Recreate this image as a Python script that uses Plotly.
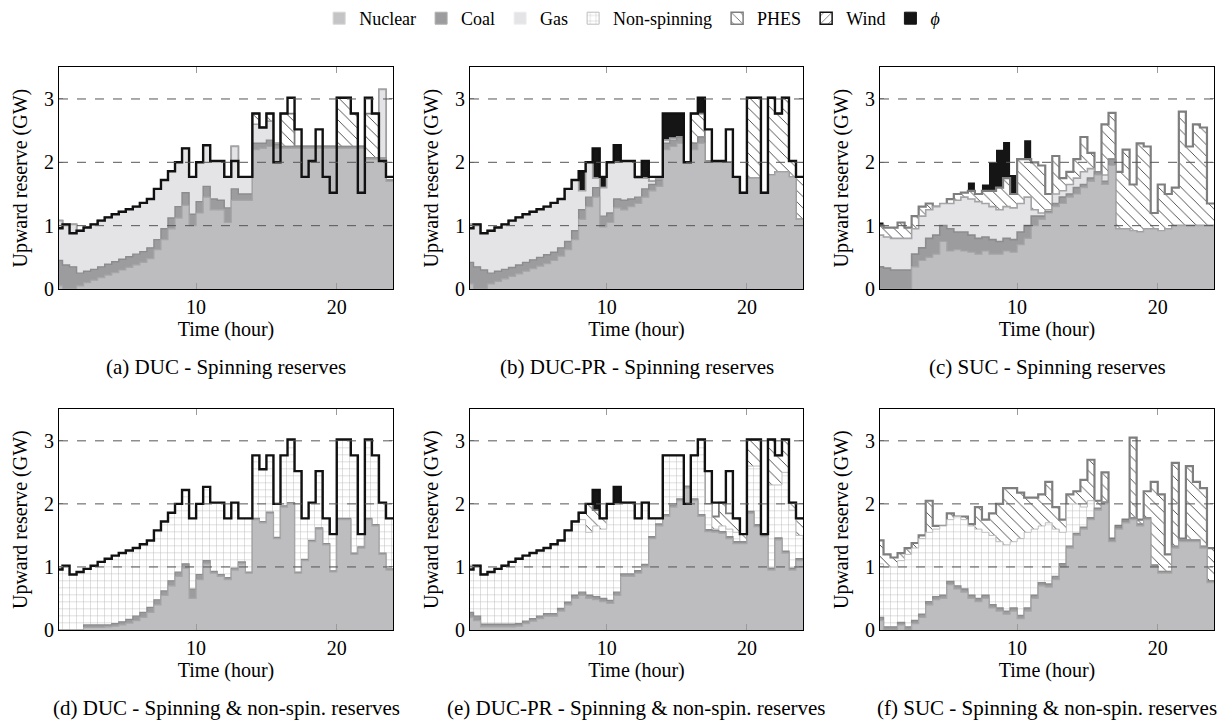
import plotly.graph_objects as go
from plotly.subplots import make_subplots

# ---------------- data (GW), half-hour steps starting at hour 0 ----------------
HOUR_EDGES = [0.5 * k for k in range(49)]
CAPTIONS = ["(a) DUC - Spinning reserves", "(b) DUC-PR - Spinning reserves", "(c) SUC - Spinning reserves",
            "(d) DUC - Spinning &amp; non-spin. reserves", "(e) DUC-PR - Spinning &amp; non-spin. reserves",
            "(f) SUC - Spinning &amp; non-spin. reserves"]

REQ_DUC = [0.96,1.02,0.88,0.92,0.97,1.02,1.08,1.13,1.18,1.22,
           1.26,1.30,1.36,1.42,1.58,1.72,1.86,2.00,2.22,1.77,
           2.00,2.27,2.02,2.02,1.77,2.02,1.77,1.77,2.77,2.55,
           2.77,2.00,2.77,3.02,2.52,1.77,2.02,2.52,1.77,1.52,
           3.02,3.02,2.77,1.52,3.02,2.77,2.02,1.77]
REQ_PR = [0.96,1.02,0.88,0.92,0.97,1.02,1.08,1.13,1.18,1.22,
          1.26,1.30,1.36,1.42,1.58,1.72,1.86,2.00,2.22,1.77,
          2.00,2.27,2.02,2.02,1.77,2.02,1.77,1.77,2.77,2.77,
          2.77,2.00,2.77,3.02,2.52,2.02,2.02,2.52,1.77,1.52,
          3.02,3.02,1.52,3.02,2.77,3.02,2.02,1.77]

# (a) DUC spinning
NUC_A = [0.05,0.00,0.00,0.05,0.10,0.14,0.18,0.22,0.26,0.30,
         0.34,0.38,0.42,0.48,0.62,0.78,0.95,1.12,1.32,1.00,
         1.20,1.45,1.25,1.25,1.05,1.40,1.40,1.40,2.20,2.22,
         2.25,2.22,2.22,2.22,2.22,2.22,2.22,2.22,2.22,2.22,
         2.22,2.22,2.22,2.22,2.05,2.05,2.05,1.70]
COAL_A = [0.45,0.38,0.35,0.25,0.28,0.31,0.35,0.39,0.43,0.47,
          0.51,0.55,0.59,0.65,0.78,0.95,1.12,1.30,1.52,1.18,
          1.38,1.62,1.42,1.40,1.28,1.58,1.50,1.50,2.30,2.30,
          2.35,2.28,2.25,2.25,2.25,2.25,2.25,2.25,2.25,2.25,
          2.25,2.25,2.25,2.25,2.07,2.07,2.07,1.72]
GAS_A = [1.08,1.02,1.02,0.92,0.97,1.02,1.08,1.13,1.18,1.22,
         1.26,1.30,1.36,1.42,1.58,1.72,1.86,2.00,2.22,1.77,
         2.00,2.27,2.02,2.02,1.77,2.25,1.77,1.77,2.60,2.55,
         2.65,2.30,2.25,2.25,2.25,2.25,2.25,2.25,2.25,2.25,
         2.25,2.25,2.25,2.25,2.07,2.07,3.15,1.72]
PHES_A = [1.08,1.02,1.02,0.92,0.97,1.02,1.08,1.13,1.18,1.22,
          1.26,1.30,1.36,1.42,1.58,1.72,1.86,2.00,2.22,1.77,
          2.00,2.27,2.02,2.02,1.77,2.25,1.77,1.77,2.77,2.55,
          2.77,2.30,2.77,2.77,2.25,2.25,2.25,2.25,2.25,2.25,
          3.02,3.02,2.77,2.25,2.77,2.77,3.15,1.77]

# (b) DUC-PR spinning
NUC_B = [0.08,0.00,0.00,0.08,0.12,0.16,0.20,0.24,0.28,0.32,
         0.36,0.40,0.45,0.52,0.62,0.78,1.10,1.30,1.45,0.98,
         1.05,1.28,1.25,1.30,1.35,1.45,1.55,1.62,2.20,2.25,
         2.30,2.00,2.20,2.30,2.00,2.00,2.00,2.00,1.77,1.52,
         1.75,1.75,1.52,1.80,1.85,1.85,1.77,1.10]
COAL_B = [0.42,0.35,0.30,0.25,0.28,0.31,0.34,0.38,0.42,0.46,
          0.50,0.54,0.58,0.65,0.75,0.92,1.25,1.45,1.60,1.15,
          1.20,1.42,1.40,1.42,1.45,1.58,1.65,1.72,2.30,2.35,
          2.40,2.00,2.30,2.40,2.02,2.00,2.00,2.00,1.77,1.52,
          1.75,1.75,1.52,1.80,1.85,1.85,1.77,1.10]
GAS_B = [1.02,1.02,0.88,0.92,0.97,1.02,1.08,1.13,1.18,1.22,
         1.26,1.30,1.36,1.42,1.58,1.72,1.55,2.00,1.75,1.60,
         2.00,2.00,2.02,2.02,1.75,1.75,1.70,1.75,2.35,2.38,
         2.40,2.00,2.30,2.40,2.02,2.00,2.00,2.00,1.77,1.52,
         1.75,1.75,1.52,1.80,1.85,1.85,1.77,1.10]
PHES_B = [1.02,1.02,0.88,0.92,0.97,1.02,1.08,1.13,1.18,1.22,
          1.26,1.30,1.36,1.42,1.58,1.72,1.55,2.00,1.75,1.60,
          2.00,2.00,2.02,2.02,1.75,1.75,1.70,1.75,2.35,2.38,
          2.40,2.00,2.77,2.77,2.02,2.00,2.00,2.00,1.77,1.52,
          3.02,3.02,1.52,3.02,2.77,3.02,2.02,1.77]
PHI_B = [0,0,0,0,0,0,0,0,0,0,
         0,0,0,0,0,0,1.86,0,2.22,1.77,
         0,2.27,0,0,1.77,2.02,0,0,2.77,2.77,
         2.77,0,0,3.02,0,0,0,0,0,0,
         0,0,0,0,0,0,0,0]

# (c) SUC spinning
NUC_C = [0.00,0.00,0.00,0.00,0.00,0.35,0.45,0.50,0.55,0.75,
         0.60,0.62,0.60,0.58,0.55,0.60,0.55,0.55,0.60,0.58,
         0.70,0.80,1.00,1.10,1.20,1.30,1.35,1.45,1.50,1.60,
         1.70,1.80,1.65,1.95,0.95,0.95,0.92,0.90,0.95,0.95,
         0.92,0.95,1.00,1.00,1.00,1.00,1.00,1.00]
COAL_C = [0.35,0.33,0.30,0.30,0.30,0.55,0.65,0.80,0.85,1.00,
          0.95,0.90,0.90,0.85,0.80,0.82,0.78,0.75,0.80,0.78,
          0.90,1.00,1.15,1.15,1.22,1.35,1.45,1.50,1.60,1.65,
          1.75,1.85,1.70,2.05,0.95,0.95,0.92,0.90,0.95,0.95,
          0.92,0.95,1.00,1.00,1.00,1.00,1.00,1.00]
GAS_C = [0.85,0.82,0.80,0.80,0.80,0.95,1.15,1.25,1.30,1.35,
         1.35,1.40,1.45,1.42,1.38,1.35,1.30,1.25,1.30,1.28,
         1.35,1.45,1.25,1.20,1.25,1.50,1.55,1.65,1.75,1.85,
         1.90,1.75,1.80,2.05,0.95,0.95,0.92,0.90,0.95,0.95,
         0.92,0.95,1.00,1.00,1.00,1.00,1.00,1.00]
PHES_C = [1.00,0.97,0.97,1.05,0.97,1.15,1.30,1.35,1.30,1.30,
          1.42,1.50,1.52,1.55,1.50,1.55,1.55,1.60,1.75,1.50,
          2.05,2.05,2.00,1.95,1.50,2.10,1.75,1.85,2.05,2.40,
          2.15,1.80,2.60,2.78,1.85,2.20,1.65,2.30,2.25,1.20,
          1.65,1.50,1.60,2.80,2.25,2.60,2.55,1.35]
PHI_C = [1.05,0,0,0,0,0,0,0,0,0,
         0,0,0,1.68,0,1.65,2.00,2.20,2.32,1.80,
         0,2.35,0,0,0,0,0,0,0,0,
         0,0,0,0,0,0,0,0,0,0,
         0,0,0,0,0,0,0,0]

# (d) DUC spinning & non-spinning
NUC_D = [0.00,0.00,0.00,0.00,0.04,0.04,0.04,0.05,0.06,0.08,
         0.11,0.15,0.20,0.28,0.40,0.55,0.70,0.85,0.98,0.50,
         0.80,1.05,0.90,0.85,0.80,0.95,1.05,0.90,1.75,1.70,
         1.85,1.45,1.95,2.00,0.90,1.10,1.40,1.60,1.35,0.92,
         1.75,1.75,1.20,1.30,1.75,1.65,1.20,0.95]
COAL_D = [0.00,0.00,0.00,0.00,0.08,0.08,0.08,0.08,0.10,0.13,
          0.17,0.22,0.28,0.36,0.48,0.62,0.78,0.92,1.05,0.65,
          0.88,1.10,0.93,0.88,0.83,0.98,1.08,0.92,1.77,1.72,
          1.87,1.47,1.97,2.02,0.92,1.12,1.42,1.62,1.37,0.94,
          1.77,1.77,1.22,1.32,1.77,1.67,1.22,0.97]
NS_D = REQ_DUC

# (e) DUC-PR spinning & non-spinning
NUC_E = [0.20,0.15,0.05,0.05,0.05,0.05,0.05,0.06,0.10,0.14,
         0.18,0.22,0.22,0.30,0.40,0.50,0.55,0.50,0.48,0.45,
         0.42,0.55,0.85,0.85,0.90,1.00,1.45,1.65,1.80,1.95,
         2.05,2.25,2.05,1.80,1.56,1.55,1.53,1.45,1.37,1.37,
         1.85,1.64,1.48,0.95,1.43,1.22,0.95,1.10]
COAL_E = [0.28,0.22,0.09,0.09,0.09,0.09,0.09,0.10,0.14,0.18,
          0.22,0.26,0.26,0.34,0.44,0.55,0.60,0.55,0.53,0.50,
          0.47,0.60,0.89,0.89,0.94,1.04,1.48,1.68,1.83,1.98,
          2.08,2.28,2.08,1.83,1.59,1.58,1.56,1.48,1.40,1.40,
          1.88,1.67,1.51,0.98,1.46,1.25,0.98,1.13]
NS_E = [1.02,1.02,0.88,0.92,0.97,1.02,1.08,1.13,1.18,1.22,
        1.26,1.30,1.36,1.42,1.58,1.72,1.75,1.55,1.65,1.60,
        2.00,2.00,2.02,2.02,1.77,2.02,1.77,1.77,2.77,2.77,
        2.77,2.00,2.77,3.02,2.00,1.60,1.65,1.60,1.55,1.40,
        2.60,2.60,1.52,2.30,2.30,2.50,1.90,1.50]
PHES_E = [1.02,1.02,0.88,0.92,0.97,1.02,1.08,1.13,1.18,1.22,
          1.26,1.30,1.36,1.42,1.58,1.72,1.86,2.00,1.90,1.77,
          2.00,2.00,2.02,2.02,1.77,2.02,1.77,1.77,2.77,2.77,
          2.77,2.00,2.77,3.02,2.00,1.80,2.02,1.85,1.77,1.52,
          3.02,3.02,1.52,3.02,2.77,3.02,2.02,1.77]
PHI_E = [0,0,0,0,0,0,0,0,0,0,
         0,0,0,0,0,0,0,0,2.22,0,
         0,2.27,0,0,0,0,0,0,0,0,
         0,0,0,0,0,0,0,0,0,0,
         0,0,0,0,0,0,0,0]

# (f) SUC spinning & non-spinning
NUC_F = [0.15,0.00,0.00,0.08,0.00,0.10,0.20,0.40,0.48,0.50,
         0.72,0.65,0.60,0.50,0.45,0.50,0.35,0.30,0.25,0.30,
         0.18,0.30,0.50,0.70,0.68,0.80,1.00,1.30,1.50,1.60,
         1.75,1.90,2.00,1.40,1.60,1.70,1.75,1.65,1.75,1.00,
         0.90,0.90,1.30,1.40,1.40,1.40,1.30,0.75]
COAL_F = [0.20,0.05,0.05,0.12,0.05,0.15,0.25,0.45,0.53,0.55,
          0.77,0.70,0.65,0.55,0.50,0.55,0.40,0.35,0.30,0.35,
          0.23,0.35,0.55,0.75,0.73,0.85,1.05,1.33,1.53,1.63,
          1.78,1.93,2.03,1.43,1.63,1.73,1.78,1.68,1.78,1.03,
          0.93,0.93,1.33,1.43,1.43,1.43,1.33,0.78]
NS_F = [1.05,1.00,1.00,1.10,1.20,1.30,1.45,1.55,1.60,1.65,
        1.75,1.80,1.75,1.65,1.60,1.55,1.50,1.40,1.35,1.40,
        1.45,1.55,1.60,1.65,1.70,1.60,1.55,2.00,2.00,1.95,
        2.05,1.93,2.03,1.43,1.63,1.73,1.78,1.68,1.78,1.03,
        0.93,0.93,1.33,1.43,1.43,1.43,1.33,0.78]
PHES_F = [1.42,1.20,1.15,1.22,1.30,1.38,1.50,2.05,1.65,1.65,
          1.85,1.80,1.80,1.68,1.95,1.75,1.85,2.00,2.25,2.25,
          2.18,2.10,2.10,2.15,2.35,1.95,1.75,2.15,2.20,2.38,
          2.70,2.05,2.50,1.45,1.65,1.75,3.05,1.75,2.20,2.35,
          2.15,1.20,2.65,1.45,2.60,2.35,2.25,1.30]

# ---------------- styles ----------------
SERIF = "Liberation Serif, Times New Roman, Times, serif"
NUC_FILL, NUC_LINE = "#bdbdbf", "#a6a6a8"
COAL_FILL, COAL_LINE = "#9c9c9e", "#8c8c8e"
GAS_FILL, GAS_LINE = "#e4e4e6", "#a4a4a6"
NS_LINE = "#bdbdbd"
PHES_LINE = "#7e7e7e"
NS_PAT = dict(shape="+", fgcolor="#b4b4b4", bgcolor="white", size=7, solidity=0.12)
PHES_PAT = dict(shape="\\", fgcolor="#2a2a2a", bgcolor="white", size=8, solidity=0.1)
WIND_PAT = dict(shape="/", fgcolor="#2a2a2a", bgcolor="white", size=7, solidity=0.1)

fig = make_subplots(rows=2, cols=3)


def steps(vals):
    return list(vals) + [vals[-1]]


def area(vals, r, c, fillcolor, linecolor, width, pattern=None):
    kw = {"fillpattern": pattern} if pattern else {}
    fig.add_trace(go.Scatter(x=HOUR_EDGES, y=steps(vals), mode="lines",
                             line=dict(shape="hv", color=linecolor, width=width),
                             fill="tozeroy", fillcolor=fillcolor, showlegend=False,
                             hoverinfo="skip", **kw), row=r, col=c)


def req_line(vals, r, c):
    fig.add_trace(go.Scatter(x=HOUR_EDGES, y=steps(vals), mode="lines",
                             line=dict(shape="hv", color="#111111", width=2.4),
                             showlegend=False, hoverinfo="skip"), row=r, col=c)


def phi(vals, r, c):
    fig.add_trace(go.Scatter(x=HOUR_EDGES, y=steps(vals), mode="lines",
                             line=dict(shape="hv", color="#151515", width=0),
                             fill="tozeroy", fillcolor="#151515", showlegend=False,
                             hoverinfo="skip"), row=r, col=c)


# (a)
area(PHES_A, 1, 1, "white", PHES_LINE, 1.8, PHES_PAT)
area(GAS_A, 1, 1, GAS_FILL, GAS_LINE, 1.6)
area(COAL_A, 1, 1, COAL_FILL, COAL_LINE, 1.4)
area(NUC_A, 1, 1, NUC_FILL, NUC_LINE, 1.2)
req_line(REQ_DUC, 1, 1)
# (b)
phi(PHI_B, 1, 2)
area(PHES_B, 1, 2, "white", PHES_LINE, 1.8, PHES_PAT)
area(GAS_B, 1, 2, GAS_FILL, GAS_LINE, 1.6)
area(COAL_B, 1, 2, COAL_FILL, COAL_LINE, 1.4)
area(NUC_B, 1, 2, NUC_FILL, NUC_LINE, 1.2)
req_line(REQ_PR, 1, 2)
# (c)
phi(PHI_C, 1, 3)
area(PHES_C, 1, 3, "white", PHES_LINE, 2.2, PHES_PAT)
area(GAS_C, 1, 3, GAS_FILL, GAS_LINE, 1.6)
area(COAL_C, 1, 3, COAL_FILL, COAL_LINE, 1.6)
area(NUC_C, 1, 3, NUC_FILL, NUC_LINE, 1.2)
# (d)
area(NS_D, 2, 1, "white", NS_LINE, 1.0, NS_PAT)
area(COAL_D, 2, 1, COAL_FILL, COAL_LINE, 1.2)
area(NUC_D, 2, 1, NUC_FILL, NUC_LINE, 1.2)
req_line(REQ_DUC, 2, 1)
# (e)
phi(PHI_E, 2, 2)
area(PHES_E, 2, 2, "white", PHES_LINE, 1.8, PHES_PAT)
area(NS_E, 2, 2, "white", NS_LINE, 1.0, NS_PAT)
area(COAL_E, 2, 2, COAL_FILL, COAL_LINE, 1.4)
area(NUC_E, 2, 2, NUC_FILL, NUC_LINE, 1.2)
req_line(REQ_PR, 2, 2)
# (f)
area(PHES_F, 2, 3, "white", PHES_LINE, 2.2, PHES_PAT)
area(NS_F, 2, 3, "white", NS_LINE, 1.0, NS_PAT)
area(COAL_F, 2, 3, COAL_FILL, COAL_LINE, 1.4)
area(NUC_F, 2, 3, NUC_FILL, NUC_LINE, 1.2)

# legend entries
LEGEND = [("Nuclear", dict(color="#c4c4c6", line=dict(color="#d6d6d6", width=1))),
          ("Coal", dict(color=COAL_FILL, line=dict(color="#b0b0b0", width=1))),
          ("Gas", dict(color=GAS_FILL, line=dict(color="#ededed", width=1))),
          ("Non-spinning", dict(color="white", pattern=NS_PAT, line=dict(color=NS_LINE, width=1))),
          ("PHES", dict(color="white", pattern=PHES_PAT, line=dict(color=PHES_LINE, width=1.5))),
          ("Wind", dict(color="white", pattern=WIND_PAT, line=dict(color="#111111", width=1.5))),
          ("<i>ϕ</i>", dict(color="#151515", line=dict(color="#151515", width=1)))]
for name, marker in LEGEND:
    fig.add_trace(go.Bar(x=[None], y=[None], name=name, marker=marker, hoverinfo="skip"), row=1, col=1)

# ---------------- layout ----------------
XDOM = [[59 / 1218, 393 / 1218], [470 / 1218, 803 / 1218], [880 / 1218, 1214 / 1218]]
YDOM = [[1 - 289 / 722, 1 - 67.3 / 722], [1 - 630 / 722, 1 - 409.3 / 722]]
axfont = dict(family=SERIF, size=20, color="black")
for r in (1, 2):
    for c in (1, 2, 3):
        fig.update_xaxes(row=r, col=c, domain=XDOM[c - 1], range=[0.25, 24], type="linear",
                         tickvals=[10, 20], ticks="inside", ticklen=6, tickcolor="#9a9a9a",
                         mirror="allticks", showline=True, linecolor="black", linewidth=1,
                         showgrid=False, zeroline=False, tickfont=axfont, layer="above traces",
                         title=dict(text="Time (hour)", font=axfont, standoff=2))
        fig.update_yaxes(row=r, col=c, domain=YDOM[r - 1], range=[0, 3.5],
                         tickvals=[0, 1, 2, 3], ticks="inside", ticklen=4, tickcolor="#9a9a9a",
                         mirror="allticks", showline=True, linecolor="black", linewidth=1,
                         showgrid=False, zeroline=False, tickfont=axfont, layer="above traces",
                         title=dict(text="Upward reserve (GW)", font=axfont, standoff=10))

shapes = []
annotations = []
for i in range(6):
    sfx = "" if i == 0 else str(i + 1)
    for g in (1, 2, 3):
        shapes.append(dict(type="line", xref=f"x{sfx} domain", yref=f"y{sfx}", x0=0, x1=1,
                           y0=g, y1=g, layer="above",
                           line=dict(color="#555555", width=1, dash="dash")))
    r, c = divmod(i, 3)
    cy = 367 if r == 0 else 708
    annotations.append(dict(text=CAPTIONS[i], xref="paper", yref="paper",
                            x=(XDOM[c][0] + XDOM[c][1]) / 2, y=1 - cy / 722,
                            xanchor="center", yanchor="middle", showarrow=False,
                            font=dict(family=SERIF, size=21, color="black")))

fig.update_layout(width=1218, height=722, template="none",
                  paper_bgcolor="white", plot_bgcolor="white",
                  margin=dict(l=0, r=0, t=0, b=0, autoexpand=False),
                  font=dict(family=SERIF, size=18, color="black"),
                  showlegend=True,
                  legend=dict(orientation="h", x=0.519, xanchor="center", y=1.0, yanchor="top",
                              font=dict(family=SERIF, size=18), itemwidth=30,
                              bgcolor="rgba(0,0,0,0)", traceorder="normal"),
                  shapes=shapes, annotations=annotations)

fig.write_html("out.html", config={"displayModeBar": False},
               post_script="document.body.style.margin='0';document.body.style.overflow='hidden';")
